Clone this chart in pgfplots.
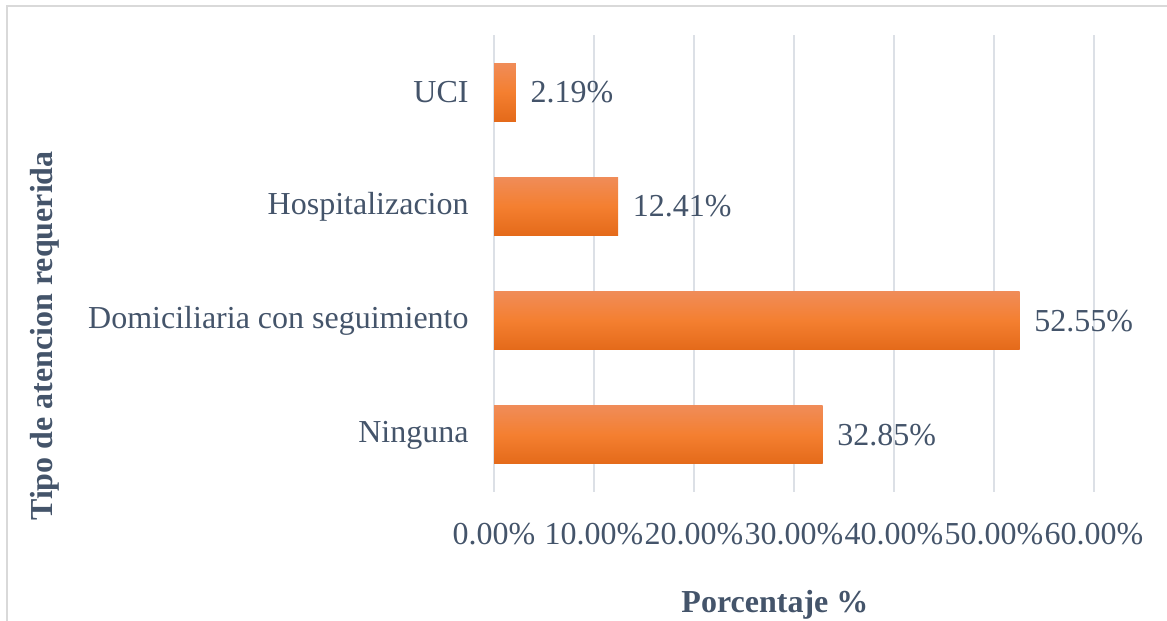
\documentclass[border=0pt]{standalone}
\usepackage{pgfplots}
\pgfplotsset{compat=1.18}
\usepackage{fontspec}
\setmainfont{Liberation Serif}
\definecolor{txt}{HTML}{44546A}
\definecolor{gridc}{HTML}{DCE0E6}
\definecolor{framec}{HTML}{D9D9D9}
\definecolor{bartop}{HTML}{F08C58}
\definecolor{barmid}{HTML}{F47F30}
\definecolor{barbot}{HTML}{E46A1A}
\begin{document}
\begin{tikzpicture}
\useasboundingbox (0,0) rectangle (437.625pt,-232.875pt);
\draw[framec, line width=0.6pt] (2.625pt,-240pt) -- (2.625pt,-2.25pt) -- (445pt,-2.25pt);
\begin{axis}[
  at={(185.25pt,-184.5pt)}, anchor=south west,
  scale only axis, width=225pt, height=171.375pt,
  xbar, bar width=21.75pt, bar shift=0pt,
  xmin=0, xmax=60, ymin=-0.5, ymax=3.5,
  xtick={0,10,20,30,40,50,60},
  xticklabels={0.00\%,10.00\%,20.00\%,30.00\%,40.00\%,50.00\%,60.00\%},
  ytick={0,1,2,3},
  yticklabels={Ninguna,Domiciliaria con seguimiento,Hospitalizacion,UCI},
  xmajorgrids=true, ymajorgrids=false,
  major grid style={draw=gridc, line width=0.6pt},
  axis line style={draw=none}, major tick length=0pt,
  tick label style={font=\fontsize{12}{14}\selectfont, text=txt},
  yticklabel style={xshift=-6pt},
  xticklabel style={yshift=-8pt},
  point meta=explicit symbolic,
  nodes near coords={\pgfplotspointmeta},
  nodes near coords style={font=\fontsize{12}{14}\selectfont, text=txt, anchor=west, xshift=2pt},
  every axis plot/.append style={draw=none, top color=bartop, bottom color=barbot, middle color=barmid},
  clip=false,
]
\addplot coordinates {(32.85,0) [32.85\%]};
\addplot coordinates {(52.55,1) [52.55\%]};
\addplot coordinates {(12.41,2) [12.41\%]};
\addplot coordinates {(2.19,3) [2.19\%]};
\end{axis}
\node[text=txt, font=\bfseries\fontsize{12}{14}\selectfont, rotate=90] at (16.875pt,-126pt) {Tipo de atencion requerida};
\node[text=txt, font=\bfseries\fontsize{12}{14}\selectfont] at (290.6pt,-226.9pt) {Porcentaje \%};
\end{tikzpicture}
\end{document}
